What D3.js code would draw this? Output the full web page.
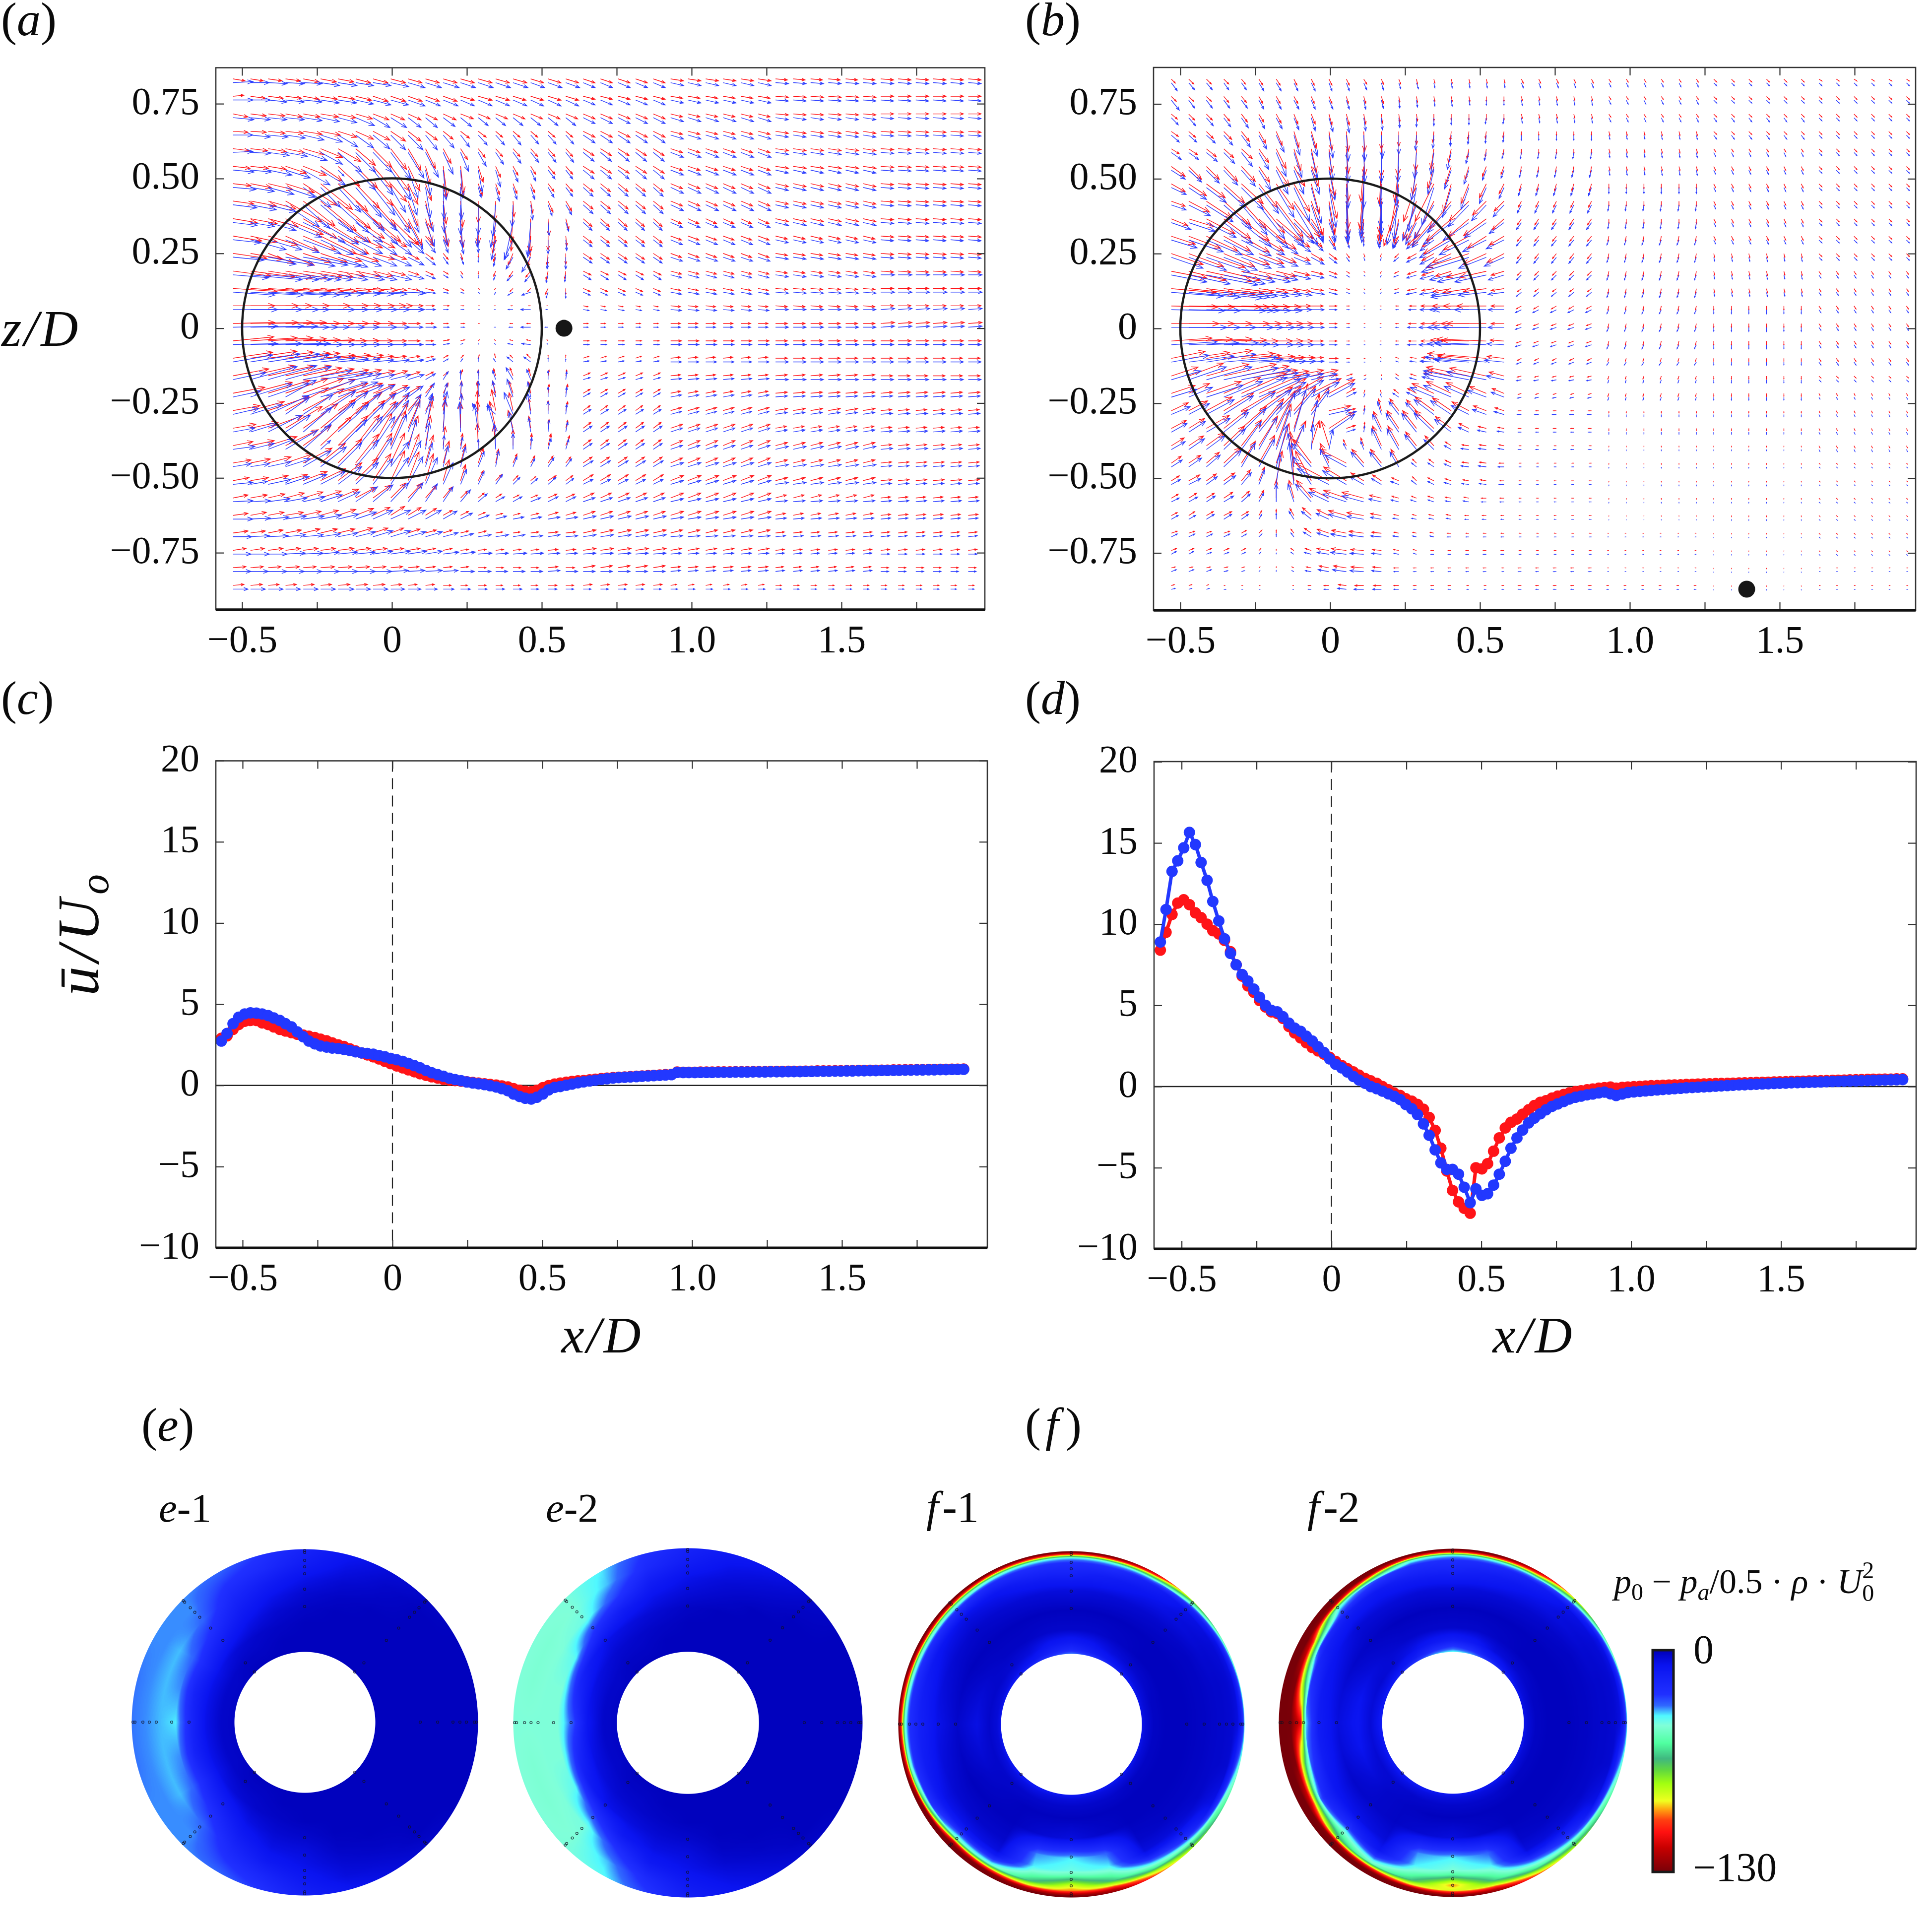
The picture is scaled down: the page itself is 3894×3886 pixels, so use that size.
<!DOCTYPE html>
<html>
<head>
<meta charset="utf-8">
<script src="https://cdn.jsdelivr.net/npm/d3@7"></script>
<style>
  html, body { margin: 0; background: #fff; }
  #stage { position: relative; width: 3894px; height: 3886px; overflow: hidden; }
  #stage canvas, #stage svg { position: absolute; left: 0; top: 0; }
  text { font-family: "Liberation Serif", serif; fill: #0a0a0a; }
</style>
</head>
<body>
<div id="stage"><canvas id="disks" width="3894" height="3886"></canvas><svg id="chart" width="3894" height="3886"></svg></div>
<script>
// Quiver grid, x/D and z/D of the arrow tails
const gridX = [-0.53,-0.472,-0.413,-0.355,-0.296,-0.238,-0.18,-0.121,-0.063,-0.004,0.054,0.112,0.171,0.229,0.288,0.346,0.404,0.463,0.521,0.58,0.638,0.696,0.755,0.813,0.872,0.93,0.988,1.047,1.105,1.164,1.222,1.28,1.339,1.397,1.456,1.514,1.572,1.631,1.689,1.748,1.806,1.864,1.923];
const gridZ = [0.833,0.775,0.716,0.658,0.6,0.541,0.483,0.425,0.366,0.308,0.25,0.191,0.133,0.075,0.016,-0.042,-0.1,-0.159,-0.217,-0.275,-0.334,-0.392,-0.45,-0.509,-0.567,-0.625,-0.684,-0.742,-0.8,-0.859];
// Read column by column up to x/D = 0.58, then in four wider blocks where the field is flat
const columnSpans = [1,1,1,1,1,1,1,1,1,1,1,1,1,1,1,1,1,1,1,1,5,6,6,6];

const aRedU = [
[12,13,14,15,16,16,16,15,15,15,14,14,14,14,14,14,14,13,13,13,12,13,12,13],
[11,15,15,16,16,17,17,16,15,15,14,14,14,14,14,14,13,13,13,13,12,12,13,13],
[15,16,17,17,17,18,18,17,16,14,13,12,13,13,12,12,12,12,12,12,12,12,13,13],
[15,16,17,18,19,20,19,18,17,15,13,12,10,9,8,7,7,7,7,7,12,12,13,13],
[16,17,18,19,21,22,23,20,19,16,13,10,8,7,7,7,7,7,7,7,11,12,13,13],
[17,18,18,21,23,22,22,22,19,19,12,5,4,3,5,5,5,5,7,7,11,12,13,13],
[18,21,25,29,34,32,30,24,20,16,10,6,3,3,4,4,4,4,6,7,10,12,13,13],
[21,26,28,37,32,36,33,27,23,20,10,6,3,2,0,-1,1,2,5,6,10,12,13,13],
[24,27,30,38,34,38,33,29,28,27,14,7,5,2,0,-2,-2,-1,1,3,9,11,13,13],
[29,27,30,33,33,36,31,27,22,16,11,8,5,3,-1,-3,-2,-1,0,1,9,11,12,13],
[34,33,26,29,28,27,24,23,22,16,11,8,5,2,0,-2,-5,-3,-1,0,9,11,12,13],
[38,45,45,42,39,33,27,25,20,15,11,8,5,2,0,-2,-4,-5,-2,-1,8,11,12,13],
[44,47,45,45,40,36,33,28,24,16,11,8,5,3,1,-1,-3,-3,-3,0,7,10,12,13],
[42,48,44,44,47,48,43,39,33,22,15,9,6,3,1,-1,-2,-2,-1,0,5,10,12,13],
[42,48,45,41,37,34,31,25,21,16,12,8,5,4,1,0,-3,-4,0,0,5,10,12,14],
[41,47,45,41,37,34,29,24,20,16,12,8,6,4,1,-1,-3,-4,-1,0,6,11,12,13],
[40,47,46,45,37,35,33,28,21,16,12,8,5,3,1,-1,-3,-4,0,0,6,10,12,12],
[36,45,46,46,39,34,31,26,22,17,12,8,5,2,0,-2,-3,-2,1,1,7,10,12,12],
[32,42,42,43,41,35,30,27,22,17,12,7,5,1,-1,-3,-4,-2,1,2,7,10,12,12],
[27,34,41,43,41,35,30,27,23,18,13,8,2,1,-1,-4,-4,-2,0,2,7,11,12,11],
[23,28,35,37,35,35,31,29,23,17,12,7,2,0,-1,-6,-5,-2,1,2,8,12,11,11],
[20,24,29,33,28,31,30,24,19,15,10,5,2,2,-1,-2,0,1,3,4,8,12,12,11],
[18,20,23,27,29,25,24,23,19,14,11,8,6,5,5,3,4,4,5,5,9,12,12,11],
[16,18,20,22,24,25,24,23,18,14,11,8,6,5,5,6,5,5,8,7,10,13,12,11],
[15,17,17,19,20,21,21,21,18,15,14,11,9,7,6,6,6,7,9,9,11,13,11,10],
[15,16,16,18,18,18,18,18,17,14,13,11,9,8,7,7,7,8,10,10,12,13,10,10],
[15,15,15,16,17,17,17,17,15,13,12,11,9,8,8,7,7,8,10,10,13,12,9,9],
[13,14,15,15,15,15,16,15,14,13,12,10,9,8,8,8,8,8,10,10,13,11,9,9],
[13,13,13,14,13,14,14,14,13,12,11,10,9,8,8,8,8,8,10,9,12,10,8,8],
[11,12,11,11,11,11,12,12,12,11,9,9,8,7,8,7,7,7,9,8,9,6,6,6]];
const aRedW = [
[-2,-2,-2,-2,-3,-3,-3,-4,-4,-4,-4,-4,-4,-4,-4,-4,-4,-4,-4,-4,-4,-2,-1,-1],
[1,-2,-2,-2,-3,-3,-3,-4,-5,-5,-5,-5,-5,-4,-4,-4,-4,-4,-4,-4,-3,-2,-1,0],
[-3,-2,-2,-3,-3,-3,-4,-5,-6,-6,-6,-6,-6,-5,-5,-5,-5,-5,-5,-5,-5,-3,-1,0],
[-1,-1,-2,-2,-3,-4,-6,-8,-9,-10,-10,-9,-8,-7,-6,-6,-6,-6,-6,-6,-6,-3,-2,-1],
[-2,-2,-3,-4,-6,-9,-13,-17,-19,-21,-22,-20,-15,-11,-9,-8,-8,-8,-8,-8,-7,-4,-2,-1],
[-2,-2,-3,-7,-9,-15,-20,-22,-22,-25,-25,-18,-30,-27,-16,-11,-9,-8,-8,-8,-7,-4,-2,-1],
[-2,-4,-6,-9,-22,-26,-28,-25,-22,-18,-21,-17,-14,-14,-12,-11,-10,-9,-8,-8,-8,-5,-3,-1],
[-3,-5,-8,-21,-25,-30,-28,-28,-26,-28,-25,-28,-23,-26,-22,-20,-16,-12,-11,-10,-8,-5,-3,-1],
[-4,-5,-8,-16,-20,-24,-24,-20,-23,-26,-27,-24,-28,-28,-26,-28,-25,-34,-17,-11,-8,-5,-3,-1],
[-5,-6,-9,-15,-14,-18,-18,-12,-12,-11,-9,-10,-10,-11,-9,-17,-15,-18,-14,-10,-7,-4,-3,-1],
[-5,-6,-10,-12,-9,-9,-8,-8,-6,-6,-6,-6,-6,-6,-4,-8,-12,-14,-12,-11,-6,-4,-2,-1],
[-5,-6,-7,-7,-6,-6,-5,-5,-5,-4,-4,-4,-3,-3,-3,-5,-6,-6,-9,-8,-4,-3,-2,-1],
[-3,-3,-3,-3,-3,-3,-3,-2,-2,-2,-2,-2,-2,-2,-1,-1,-3,-3,-6,-6,-3,-2,-1,0],
[0,0,0,0,0,0,0,0,0,0,0,0,0,0,0,0,0,0,0,0,-1,-1,-1,0],
[1,1,1,1,0,0,0,0,0,0,0,0,0,0,0,0,0,0,0,0,0,0,0,1],
[4,3,3,2,1,1,0,0,0,0,0,0,1,1,1,1,1,1,1,0,0,0,0,0],
[6,7,6,5,5,3,3,3,2,2,2,2,3,3,3,4,3,4,3,3,2,1,0,0],
[7,10,10,10,8,7,6,6,5,5,4,4,4,6,6,7,8,7,6,6,3,1,1,0],
[6,11,13,15,15,14,10,10,9,8,7,8,10,12,12,12,12,11,9,9,4,2,1,1],
[5,9,14,23,22,21,20,19,18,16,15,14,14,17,20,21,18,12,10,9,5,3,2,1],
[4,6,13,22,25,29,27,28,27,25,28,27,28,26,28,27,18,12,9,8,6,4,2,1],
[4,5,9,16,20,29,30,31,33,35,30,30,19,12,22,20,16,12,12,10,6,5,3,1],
[3,4,6,9,15,20,24,29,30,30,29,28,22,19,15,14,9,7,7,6,6,5,3,1],
[3,3,5,6,9,12,18,23,27,30,29,27,21,16,10,6,5,4,5,5,6,5,3,1],
[3,3,4,5,6,7,9,11,13,15,15,13,11,7,5,4,3,3,4,4,5,5,3,1],
[2,3,3,3,4,5,6,7,8,9,8,7,5,4,3,2,2,2,3,3,4,4,2,1],
[2,2,3,3,4,4,4,5,5,5,4,3,3,2,2,1,1,1,1,1,3,3,1,1],
[2,2,2,2,2,2,2,2,2,2,2,2,2,1,1,1,1,1,1,1,2,2,1,1],
[1,1,1,1,1,1,1,1,1,1,1,1,1,1,0,0,0,0,1,0,2,1,1,0],
[1,1,1,1,1,1,1,1,1,1,1,1,0,0,0,0,0,0,0,0,1,1,0,0]];
const aBlueU = [
[20,19,19,19,19,19,19,18,18,18,17,16,16,15,15,15,15,14,14,14,12,13,13,13],
[20,20,19,19,19,19,19,18,18,18,17,15,15,14,14,14,14,13,13,13,12,13,13,13],
[21,20,19,19,19,19,19,19,17,16,13,12,12,11,10,10,10,10,10,10,12,13,13,13],
[20,20,20,20,21,22,20,18,17,15,15,12,11,9,9,9,8,8,8,8,12,13,13,13],
[20,20,21,22,24,22,24,20,19,20,16,13,10,8,8,8,8,8,8,8,11,13,13,13],
[21,21,24,25,27,25,6,20,20,20,10,5,3,2,4,5,5,5,7,7,11,13,13,13],
[23,24,26,30,28,20,23,26,22,15,9,5,1,1,3,4,4,4,6,7,10,13,13,13],
[24,26,28,34,27,33,31,29,24,19,11,8,1,0,0,-3,-1,2,4,6,10,13,13,13],
[24,24,28,36,42,38,31,27,25,21,15,9,4,2,-1,-5,-8,-3,1,3,9,12,13,13],
[28,36,34,34,38,33,29,27,24,21,16,10,5,3,0,-4,-9,-3,0,1,9,12,13,13],
[31,46,46,50,45,41,30,26,24,21,16,10,5,3,0,-2,-7,-9,-1,0,9,12,13,13],
[36,52,51,46,38,32,30,29,24,21,16,10,5,2,0,-2,-6,-6,-2,-1,8,11,13,14],
[42,53,58,54,48,43,42,38,34,34,18,10,5,3,1,-1,-5,-9,-2,0,7,11,13,14],
[45,52,51,44,52,48,45,42,37,34,16,10,5,3,1,-1,-5,-10,-2,0,6,11,13,14],
[45,54,50,44,35,29,27,24,24,19,15,11,6,4,0,-1,-4,-10,-3,0,5,10,13,14],
[45,52,55,45,40,35,30,25,21,17,15,10,6,2,0,-1,-5,-9,-1,0,6,11,13,13],
[40,50,52,44,38,35,31,25,21,19,16,10,5,2,0,-2,-6,-7,0,0,6,11,13,13],
[33,47,49,46,49,46,35,26,22,20,16,10,5,0,0,-3,-7,-4,0,1,7,11,13,13],
[28,42,41,31,52,47,40,28,22,19,15,9,4,1,0,-3,-6,-3,0,1,7,11,12,12],
[26,32,41,24,30,35,30,25,23,19,13,7,4,1,-6,-9,-9,-3,0,1,8,11,12,12],
[22,26,34,25,29,35,31,29,25,18,12,7,2,-1,-4,-8,-4,-2,1,2,9,12,12,12],
[22,24,26,32,28,10,29,27,22,16,8,4,1,2,0,-1,0,1,3,3,9,12,13,12],
[18,19,23,25,28,26,24,23,19,18,13,7,5,5,6,3,4,4,6,6,10,13,13,11],
[20,17,23,24,24,25,24,23,20,18,15,12,10,6,6,7,7,7,8,8,10,13,13,11],
[20,20,22,22,22,22,22,22,20,18,15,12,10,10,9,9,9,10,10,10,12,13,12,11],
[20,20,21,21,21,21,21,21,20,20,18,16,14,12,11,11,11,11,12,12,13,13,11,10],
[19,19,20,20,20,20,20,20,20,20,18,17,15,13,13,13,12,12,12,12,13,12,10,9],
[18,19,19,20,20,19,20,20,20,20,19,17,16,15,14,13,14,13,12,12,13,11,9,9],
[18,18,19,19,19,19,20,20,19,18,17,17,15,14,13,12,12,12,12,12,12,10,9,8],
[15,15,15,15,15,15,16,15,15,14,13,12,11,10,9,9,9,8,9,8,8,7,6,6]];
const aBlueW = [
[1,0,-1,-1,-1,-3,-3,-3,-3,-4,-5,-5,-5,-5,-5,-5,-5,-5,-5,-5,-5,-3,-1,-1],
[0,0,-2,-2,-2,-3,-3,-4,-5,-5,-6,-6,-6,-6,-6,-6,-6,-6,-6,-6,-5,-3,-1,-1],
[-2,-2,-2,-2,-3,-4,-5,-8,-10,-10,-10,-10,-9,-9,-8,-8,-8,-8,-8,-8,-6,-4,-2,-1],
[0,-2,-2,-3,-5,-7,-12,-13,-14,-15,-15,-15,-13,-12,-10,-10,-10,-9,-9,-9,-8,-4,-2,-1],
[1,-1,-3,-4,-8,-12,-20,-20,-20,-27,-26,-25,-22,-19,-14,-12,-11,-10,-10,-10,-9,-5,-2,-1],
[-2,-2,-5,-8,-15,-15,-6,-20,-25,-30,-28,-25,-30,-28,-22,-17,-12,-11,-9,-9,-9,-5,-3,-1],
[-2,-4,-7,-10,-20,-20,-25,-30,-28,-25,-28,-30,-32,-32,-10,-14,-12,-12,-10,-9,-9,-6,-3,-1],
[-3,-5,-7,-22,-24,-28,-28,-26,-26,-28,-28,-27,-28,-30,-30,-32,-22,-15,-11,-10,-9,-6,-3,-1],
[-3,-4,-8,-15,-20,-22,-20,-20,-22,-25,-27,-24,-23,-25,-25,-25,-37,-35,-13,-9,-8,-5,-3,-1],
[-3,-10,-10,-13,-14,-15,-15,-14,-15,-15,-14,-13,-13,-14,-13,-20,-20,-15,-14,-11,-7,-5,-3,-1],
[-3,-7,-8,-9,-8,-9,-10,-9,-9,-9,-8,-8,-7,-7,-5,-9,-12,-15,-12,-12,-6,-4,-2,-1],
[-3,-5,-5,-5,-5,-5,-5,-5,-5,-5,-4,-4,-3,-3,-3,-5,-6,-7,-8,-7,-5,-3,-2,0],
[-3,-3,-3,-3,-3,-2,-2,-2,-2,-1,-1,-1,-1,-1,-1,-2,-3,-3,-6,-6,-3,-2,-1,0],
[0,0,0,0,0,0,0,0,0,0,0,0,0,0,0,0,0,0,0,0,-1,-1,0,1],
[1,1,1,0,0,0,0,0,0,0,0,0,0,0,0,0,0,0,0,0,0,0,0,1],
[1,1,1,1,0,0,0,0,0,0,0,0,1,1,1,1,1,1,1,0,0,0,0,0],
[7,8,8,7,5,4,3,3,2,2,2,3,3,3,4,3,5,5,4,3,1,0,0,0],
[7,13,14,13,9,7,6,6,5,5,5,6,8,9,9,9,12,10,9,8,2,1,0,0],
[6,13,14,17,17,15,15,12,12,10,11,14,14,15,16,16,18,15,10,10,4,2,1,1],
[6,10,19,17,20,23,22,21,21,22,20,21,23,20,11,8,22,21,13,10,5,3,2,1],
[4,8,17,17,25,30,28,29,30,32,31,38,33,30,28,28,20,14,12,10,6,4,2,1],
[3,6,10,19,25,9,30,33,33,35,30,27,14,12,10,25,16,12,11,10,6,4,3,1],
[3,3,5,8,16,20,24,27,29,25,26,24,21,20,15,16,10,8,9,8,6,4,2,1],
[2,3,5,8,10,13,18,22,26,27,28,27,22,15,13,10,7,6,7,6,5,4,2,1],
[1,1,3,4,5,7,10,15,17,19,19,18,15,12,8,5,5,4,5,5,4,3,1,1],
[0,1,2,3,3,4,5,7,9,9,9,9,8,6,4,3,2,2,2,2,3,2,1,1],
[0,1,1,2,2,3,4,5,6,6,5,5,4,3,2,2,2,1,2,1,2,1,1,1],
[0,0,0,1,1,2,2,2,3,3,3,3,2,2,1,1,1,1,1,1,1,1,1,0],
[0,0,0,0,0,0,0,0,0,1,1,1,1,0,0,0,0,0,1,0,0,1,1,0],
[0,0,0,0,0,0,0,0,0,0,0,0,0,0,0,0,0,0,0,0,0,0,0,0]];

const bRedU = [
[4,5,5,5,4,4,4,3,3,3,3,3,2,2,1,1,1,1,1,1,2,2,3,3],
[5,5,5,5,5,4,4,4,3,3,2,2,2,1,1,1,1,1,0,0,1,2,3,3],
[6,6,6,6,6,5,5,4,4,3,3,2,1,1,1,0,0,0,0,0,1,2,3,3],
[7,7,7,8,8,7,6,5,5,3,2,1,0,0,0,-1,-1,-1,-1,-1,0,1,3,3],
[8,9,10,10,11,10,10,7,5,3,2,1,0,-1,-1,-3,-3,-2,-1,-1,0,1,2,3],
[14,13,13,14,14,11,13,11,7,6,2,-3,-2,-4,-4,-6,-6,-4,-4,-3,-1,1,2,3],
[14,18,19,21,22,19,18,16,8,8,2,-4,-2,-9,-13,-19,-8,-8,-7,-5,-2,0,2,3],
[14,21,26,27,25,26,27,26,12,6,2,-3,-1,-15,-13,-19,-22,-20,-14,-10,-3,0,2,3],
[17,26,29,27,28,28,27,19,11,6,2,-2,-3,-5,-10,-22,-25,-21,-23,-12,-4,0,2,3],
[24,32,32,27,28,25,20,16,11,6,2,0,-2,-4,-9,-12,-28,-26,-19,-15,-4,-1,2,3],
[32,35,39,31,28,25,20,16,12,8,3,1,-1,-4,-9,-12,-19,-43,-24,-17,-4,-1,1,3],
[36,38,46,37,31,31,20,16,12,8,3,1,-1,-4,-9,-12,-16,-23,-27,-13,-4,-1,1,2],
[45,46,49,40,32,29,23,17,12,8,3,1,-1,-4,-9,-12,-18,-26,-23,-13,-4,-1,1,2],
[47,46,55,46,37,31,25,17,12,8,3,1,-1,-3,-7,-13,-19,-26,-30,-13,-5,-1,0,2],
[48,46,46,46,40,34,27,19,12,8,3,1,-1,-3,-8,-13,-20,-28,-40,-13,-5,-1,0,2],
[41,44,46,43,37,34,27,19,12,8,3,1,-1,-3,-8,-13,-21,-28,-50,-14,-5,-1,0,2],
[34,41,46,51,40,36,29,21,12,9,3,1,-1,-3,-6,-12,-13,-31,-59,-17,-4,-1,0,2],
[27,35,43,53,48,39,33,30,27,9,6,2,0,-3,-6,-10,-25,-43,-37,-15,-4,-1,0,2],
[24,21,35,37,45,42,30,30,30,26,9,1,-1,-5,-9,-22,-25,-23,-17,-12,-3,-1,0,1],
[17,19,26,30,34,34,25,22,18,22,9,1,-3,-9,-10,-19,-19,-17,-13,-9,-3,0,0,1],
[15,16,23,24,25,25,19,14,8,26,9,1,-8,-12,-14,-19,-16,-10,-8,-6,-3,0,0,1],
[13,15,18,21,20,19,15,12,8,-8,-3,-3,-9,-11,-11,-9,-6,-7,-7,-5,-2,0,0,1],
[10,12,13,17,14,16,13,-4,-18,-9,-27,-12,-11,-8,-4,-5,-6,-7,-7,-5,-2,0,0,1],
[8,11,10,11,9,6,6,-3,-16,-34,-23,-13,-9,-7,-4,-6,-6,-6,-6,-4,-2,0,0,1],
[7,8,8,9,8,5,0,-5,-15,-20,-23,-22,-12,-7,-5,-6,-6,-5,-5,-4,-2,0,0,1],
[6,6,7,8,7,3,0,-4,-9,-12,-18,-17,-11,-5,-4,-5,-5,-4,-4,-3,-2,0,0,1],
[6,6,5,6,5,3,0,-3,-7,-12,-15,-15,-10,-5,-4,-4,-4,-3,-3,-3,-2,-1,0,1],
[5,5,5,5,4,2,0,-3,-6,-12,-15,-13,-9,-5,-3,-3,-3,-3,-3,-3,-2,-1,0,1],
[4,4,4,4,3,1,0,-2,-5,-10,-13,-13,-9,-5,-3,-3,-3,-3,-3,-2,-3,-1,0,1],
[3,3,2,1,1,1,0,-1,-3,-5,-8,-9,-8,-5,-3,-3,-3,-2,-2,-2,-3,-2,0,1]];
const bRedW = [
[-4,-5,-5,-5,-5,-6,-6,-6,-6,-6,-6,-5,-5,-5,-5,-4,-4,-4,-4,-4,-4,-3,-3,-2],
[-5,-5,-5,-6,-6,-7,-7,-7,-7,-7,-7,-7,-7,-6,-6,-5,-5,-5,-5,-5,-4,-3,-3,-3],
[-5,-6,-6,-7,-8,-8,-9,-10,-10,-11,-11,-10,-9,-8,-7,-7,-6,-6,-6,-6,-4,-3,-3,-3],
[-5,-6,-7,-8,-10,-12,-14,-16,-17,-19,-20,-20,-18,-15,-13,-11,-9,-8,-7,-6,-4,-4,-3,-3],
[-5,-6,-8,-9,-10,-14,-20,-22,-24,-24,-25,-27,-28,-27,-22,-20,-14,-10,-8,-6,-5,-4,-3,-3],
[-10,-13,-13,-15,-15,-16,-20,-20,-20,-30,-35,-35,-38,-35,-28,-22,-18,-13,-10,-8,-6,-4,-4,-3],
[-8,-12,-14,-19,-20,-24,-26,-28,-30,-35,-45,-45,-50,-48,-38,-38,-28,-20,-14,-10,-7,-5,-4,-3],
[-5,-11,-17,-24,-28,-32,-36,-36,-34,-32,-35,-30,-40,-45,-38,-38,-28,-20,-14,-10,-6,-5,-4,-3],
[-7,-8,-15,-20,-22,-25,-23,-20,-16,-16,-18,-18,-22,-24,-22,-27,-22,-18,-17,-11,-6,-5,-4,-3],
[-8,-12,-15,-15,-16,-15,-13,-11,-11,-10,-8,-6,-8,-8,-9,-11,-18,-14,-12,-9,-5,-5,-4,-3],
[-11,-13,-14,-13,-11,-10,-9,-7,-7,-6,-4,-3,-3,-4,-5,-7,-9,-14,-11,-9,-5,-5,-4,-3],
[-7,-9,-10,-9,-7,-7,-5,-4,-3,-3,-2,-1,-2,-2,-3,-4,-5,-6,-6,-4,-4,-5,-4,-3],
[-4,-5,-6,-5,-4,-4,-3,-3,-2,-2,-1,-1,-1,-1,-2,-2,-3,-4,-3,-2,-3,-5,-4,-3],
[-1,-1,-1,-1,-1,-1,-1,0,0,0,0,0,0,0,0,0,0,0,0,0,-3,-4,-4,-3],
[0,0,0,0,0,0,0,0,0,0,0,0,0,0,0,0,0,0,0,0,-2,-4,-4,-3],
[3,2,2,1,0,0,0,0,0,0,0,0,0,0,0,0,1,1,2,1,-2,-4,-4,-3],
[7,6,8,5,3,2,1,1,1,0,0,0,1,1,1,1,2,3,5,2,-2,-3,-3,-3],
[9,13,12,12,10,6,5,6,6,1,2,1,1,2,2,3,6,9,8,4,-1,-3,-3,-2],
[8,10,12,16,20,18,15,17,15,14,5,3,3,4,5,10,12,11,7,5,-1,-3,-3,-2],
[8,10,14,18,20,24,25,25,24,5,2,5,12,12,11,14,13,9,5,3,0,-2,-2,-2],
[8,10,13,19,22,30,38,45,35,17,3,6,17,18,18,18,12,5,2,1,0,-2,-2,-2],
[8,10,13,20,26,30,42,25,25,25,6,8,20,20,14,10,4,1,1,1,0,-1,-1,-2],
[7,8,11,16,22,28,40,32,24,20,14,14,14,14,4,4,3,1,1,0,0,-1,-1,-1],
[5,6,7,8,11,14,30,45,30,18,14,8,6,3,4,3,2,1,1,0,0,-1,-1,-1],
[4,5,5,6,7,8,18,18,18,10,8,6,3,2,2,2,1,1,0,0,0,-1,-1,-1],
[3,4,4,4,4,5,6,7,8,6,5,3,2,1,1,1,1,0,0,0,0,-0.5,-1,-1],
[2,2,2,2,3,3,3,4,5,4,3,2,1,1,1,1,0,0,0,0,0,0,-0.5,-1],
[2,2,2,2,2,2,1,2,2,2,2,1,1,1,1,0,0,0,0,0,0,0,-0.5,-1],
[1,1,1,1,1,1,1,1,1,2,2,1,1,0,0,0,0,0,0,0,0,0,-0.5,0],
[1,1,1,0,0,0,0,0,0,0,1,0,0,0,0,0,0,0,0,0,0,0,-0.5,0]];
const bBlueU = [
[6,6,6,5,5,5,5,4,4,3,3,3,2,2,2,1,1,1,1,1,2,2,3,3],
[8,6,6,6,6,5,5,5,4,4,3,2,2,1,1,1,1,1,0,0,1,2,3,3],
[7,7,7,7,7,6,6,5,4,4,3,2,1,1,0,0,0,0,-1,-1,1,2,3,3],
[8,8,9,9,9,8,8,6,6,4,2,1,1,0,-1,-1,-1,-1,-1,-1,0,1,3,3],
[10,10,11,11,11,10,10,8,6,4,2,1,0,-1,-2,-3,-4,-3,-2,-2,-1,1,2,3],
[14,13,13,14,14,12,12,10,8,6,2,0,-1,-3,-5,-6,-7,-5,-4,-3,-2,1,2,3],
[15,18,20,22,22,20,18,16,10,7,2,-3,-1,-5,-8,-12,-9,-8,-7,-5,-3,0,2,3],
[15,22,27,28,26,26,28,24,12,6,1,-3,0,-12,-14,-20,-24,-21,-15,-11,-4,-1,2,3],
[20,27,30,29,30,30,28,20,12,7,2,-2,-3,-6,-11,-22,-28,-26,-22,-15,-5,-1,2,3],
[26,35,36,30,30,26,22,17,12,7,3,0,-2,-5,-10,-14,-32,-30,-24,-18,-5,-2,2,3],
[32,38,44,34,30,26,22,17,13,8,3,1,-1,-5,-10,-14,-25,-48,-28,-20,-5,-2,1,3],
[36,42,52,42,34,32,22,17,13,8,3,1,-1,-5,-10,-14,-22,-32,-32,-16,-5,-2,1,2],
[52,52,56,46,36,30,25,18,13,8,3,1,-1,-4,-10,-14,-20,-38,-28,-16,-5,-2,1,2],
[54,52,60,50,38,32,26,18,13,8,3,1,-1,-3,-8,-14,-22,-36,-32,-16,-6,-2,0,2],
[56,52,50,50,42,36,28,20,13,8,3,1,-1,-3,-9,-15,-24,-36,-44,-16,-6,-2,0,2],
[46,50,52,46,38,35,28,20,13,8,3,1,-1,-3,-9,-15,-24,-34,-52,-17,-6,-2,0,2],
[38,46,50,54,42,37,30,22,13,9,3,1,-1,-3,-7,-14,-16,-36,-62,-20,-5,-2,0,2],
[30,38,46,55,50,40,34,30,26,10,6,2,0,-3,-7,-12,-28,-46,-40,-18,-5,-1,0,2],
[26,24,37,39,46,42,30,30,28,26,10,1,-1,-6,-10,-24,-28,-25,-19,-13,-4,-1,0,1],
[19,21,28,30,34,33,25,22,18,22,10,1,-4,-10,-11,-20,-21,-18,-14,-10,-4,0,0,1],
[16,17,24,25,25,24,19,12,6,26,9,1,-9,-13,-15,-20,-17,-11,-9,-7,-3,0,0,1],
[14,16,19,22,20,18,14,10,2,4,-3,-3,-10,-12,-12,-10,-7,-8,-8,-6,-3,0,0,1],
[11,13,14,18,14,16,11,-6,-20,-9,-22,-13,-12,-9,-5,-6,-7,-8,-8,-6,-2,0,0,1],
[9,12,11,12,10,6,4,-5,-18,-32,-24,-14,-10,-8,-5,-6,-7,-7,-7,-5,-2,0,0,1],
[8,9,9,10,9,5,0,-6,-16,-21,-24,-22,-13,-8,-6,-6,-6,-6,-5,-4,-2,0,0,1],
[7,7,8,8,7,3,0,-5,-10,-13,-18,-17,-11,-6,-5,-5,-5,-4,-4,-3,-2,0,0,1],
[6,6,6,6,5,3,0,-3,-8,-12,-16,-15,-11,-6,-4,-4,-4,-3,-3,-3,-2,-1,0,1],
[5,5,5,5,4,2,0,-3,-7,-12,-16,-14,-10,-5,-3,-3,-3,-3,-3,-3,-2,-1,0,1],
[5,5,5,4,3,1,0,-2,-6,-11,-14,-14,-10,-5,-3,-3,-3,-3,-3,-2,-3,-1,0,1],
[4,3,3,2,1,1,0,-1,-3,-5,-9,-10,-9,-5,-3,-3,-3,-2,-2,-2,-3,-2,0,1]];
const bBlueW = [
[-8,-7,-7,-7,-7,-8,-8,-8,-8,-8,-8,-7,-7,-6,-6,-5,-5,-5,-5,-5,-5,-4,-3,-3],
[-10,-8,-8,-8,-8,-9,-9,-9,-9,-9,-9,-9,-8,-8,-7,-6,-6,-5,-5,-5,-5,-4,-3,-3],
[-7,-8,-8,-9,-10,-11,-11,-12,-13,-14,-15,-13,-12,-10,-9,-8,-7,-7,-6,-6,-5,-4,-4,-3],
[-7,-7,-8,-10,-12,-14,-17,-20,-21,-23,-26,-26,-23,-19,-15,-13,-11,-9,-8,-7,-5,-4,-4,-3],
[-7,-7,-9,-11,-14,-17,-24,-25,-26,-28,-30,-30,-30,-30,-26,-22,-17,-11,-8,-6,-6,-5,-4,-3],
[-9,-12,-13,-15,-16,-20,-24,-24,-24,-30,-38,-38,-38,-36,-30,-24,-19,-14,-10,-8,-7,-5,-4,-3],
[-7,-12,-15,-20,-22,-26,-30,-34,-36,-40,-50,-48,-40,-52,-44,-38,-30,-22,-16,-11,-8,-6,-4,-3],
[-5,-11,-17,-24,-30,-34,-38,-40,-38,-38,-38,-34,-30,-40,-36,-34,-28,-22,-16,-12,-8,-6,-4,-3],
[-7,-9,-15,-21,-24,-26,-24,-21,-18,-18,-20,-20,-24,-26,-22,-25,-22,-18,-15,-11,-7,-6,-4,-3],
[-8,-12,-15,-15,-16,-15,-14,-12,-11,-10,-8,-6,-8,-8,-9,-11,-18,-15,-12,-9,-6,-5,-4,-3],
[-11,-13,-15,-13,-11,-10,-9,-7,-7,-6,-4,-3,-3,-4,-5,-7,-10,-15,-11,-9,-6,-5,-4,-3],
[-7,-9,-10,-9,-7,-7,-5,-4,-3,-3,-2,-1,-2,-2,-3,-4,-5,-7,-7,-5,-5,-5,-4,-3],
[-4,-5,-6,-5,-4,-4,-3,-3,-2,-2,-1,-1,-1,-1,-2,-2,-3,-5,-3,-2,-4,-5,-4,-3],
[-1,-1,-1,-1,-1,-1,-1,0,0,0,0,0,0,0,0,0,0,0,0,0,-3,-4,-4,-3],
[0,0,0,0,0,0,0,0,0,0,0,0,0,0,0,0,0,0,0,0,-2,-4,-4,-3],
[3,2,2,1,0,0,0,0,0,0,0,0,0,0,0,0,1,1,2,1,-2,-4,-4,-3],
[7,6,8,5,3,2,1,1,1,0,0,0,1,1,1,1,2,3,5,2,-2,-3,-3,-3],
[9,13,13,12,10,7,5,6,6,1,2,1,1,2,2,3,6,9,8,4,-1,-3,-3,-2],
[8,10,12,16,20,18,15,17,15,14,5,3,3,4,5,10,12,11,7,5,-1,-3,-3,-2],
[8,11,15,19,22,25,26,26,24,5,3,6,13,13,12,15,14,9,5,3,0,-2,-2,-2],
[9,11,14,20,24,30,40,42,32,18,3,6,18,19,19,19,13,5,2,1,0,-2,-2,-2],
[8,11,14,21,28,32,40,25,25,20,6,8,21,21,15,10,4,1,1,1,0,-1,-1,-2],
[7,9,12,17,24,28,42,34,24,18,12,15,15,15,4,4,3,1,1,0,0,-1,-1,-1],
[5,6,8,9,12,15,30,42,28,16,14,8,6,3,4,3,2,1,1,0,0,-1,-1,-1],
[4,5,6,6,8,9,18,18,18,10,8,6,3,2,2,2,1,1,0,0,0,-1,-1,-1],
[4,4,5,5,5,5,6,8,8,6,5,3,2,1,1,1,1,0,0,0,0,-0.5,-1,-1],
[3,3,3,3,3,3,3,4,5,4,3,2,1,1,1,1,0,0,0,0,0,0,-0.5,-1],
[3,3,2,2,2,2,1,2,2,2,2,1,1,1,1,0,0,0,0,0,0,0,-0.5,-1],
[2,2,2,1,1,1,1,1,1,2,2,1,1,0,0,0,0,0,0,0,0,0,-0.5,0],
[1,1,1,0,0,0,0,0,0,0,1,0,0,0,0,0,0,0,0,0,0,0,-0.5,0]];

// Centreline profiles
const profileX = [-0.571,-0.552,-0.532,-0.513,-0.493,-0.474,-0.454,-0.435,-0.415,-0.396,-0.376,-0.357,-0.337,-0.318,-0.298,-0.279,-0.259,-0.24,-0.22,-0.201,-0.181,-0.162,-0.142,-0.123,-0.103,-0.084,-0.064,-0.045,-0.025,-0.006,0.014,0.034,0.053,0.073,0.092,0.112,0.131,0.151,0.17,0.19,0.209,0.229,0.248,0.268,0.287,0.307,0.326,0.346,0.365,0.385,0.404,0.424,0.443,0.463,0.482,0.502,0.521,0.541,0.56,0.58,0.599,0.619,0.638,0.658,0.677,0.697,0.716,0.736,0.755,0.775,0.794,0.814,0.833,0.853,0.872,0.892,0.911,0.931,0.95,0.97,0.989,1.009,1.028,1.048,1.067,1.087,1.106,1.126,1.145,1.165,1.184,1.204,1.223,1.243,1.262,1.282,1.301,1.321,1.34,1.36,1.379,1.399,1.418,1.438,1.457,1.477,1.496,1.516,1.535,1.555,1.574,1.594,1.613,1.633,1.652,1.672,1.691,1.711,1.73,1.75,1.769,1.789,1.808,1.828,1.847,1.867,1.886,1.906];
const cRed = [2.9,3.05,3.45,3.75,3.95,4.0,4.0,3.85,3.75,3.6,3.45,3.35,3.25,3.15,3.1,3.03,2.95,2.85,2.75,2.62,2.5,2.4,2.25,2.12,2.0,1.88,1.76,1.63,1.48,1.34,1.2,1.08,0.96,0.84,0.72,0.62,0.53,0.45,0.38,0.33,0.3,0.26,0.22,0.18,0.14,0.1,0.06,0.02,-0.03,-0.09,-0.2,-0.3,-0.36,-0.38,-0.3,-0.14,-0.02,0.08,0.14,0.2,0.24,0.28,0.3,0.34,0.38,0.42,0.45,0.48,0.5,0.52,0.54,0.56,0.58,0.6,0.62,0.64,0.66,0.68,0.82,0.81,0.81,0.81,0.82,0.82,0.82,0.83,0.83,0.83,0.84,0.84,0.84,0.85,0.85,0.85,0.86,0.86,0.86,0.87,0.87,0.87,0.88,0.88,0.89,0.89,0.89,0.9,0.9,0.91,0.91,0.92,0.92,0.93,0.93,0.94,0.94,0.95,0.95,0.96,0.96,0.97,0.97,0.98,0.98,0.99,0.99,1.0,1.0,1.01];
const cBlue = [2.73,3.2,3.8,4.2,4.4,4.47,4.45,4.4,4.3,4.15,4.0,3.8,3.6,3.3,3.0,2.73,2.56,2.43,2.36,2.3,2.27,2.22,2.15,2.07,2.0,1.97,1.92,1.84,1.76,1.66,1.58,1.48,1.36,1.22,1.08,0.92,0.78,0.66,0.56,0.44,0.36,0.29,0.21,0.15,0.1,0.05,-0.02,-0.1,-0.2,-0.33,-0.53,-0.68,-0.79,-0.84,-0.73,-0.53,-0.28,-0.12,-0.07,0.01,0.08,0.16,0.22,0.27,0.32,0.37,0.41,0.45,0.48,0.5,0.52,0.54,0.56,0.58,0.6,0.62,0.64,0.66,0.8,0.79,0.79,0.79,0.8,0.8,0.8,0.81,0.81,0.81,0.82,0.82,0.82,0.83,0.83,0.83,0.84,0.84,0.84,0.85,0.85,0.85,0.86,0.86,0.87,0.87,0.87,0.88,0.88,0.89,0.89,0.9,0.9,0.91,0.91,0.92,0.92,0.93,0.93,0.94,0.94,0.95,0.95,0.96,0.96,0.97,0.97,0.98,0.98,0.99];
const dRed = [8.4,9.5,10.6,11.3,11.5,11.2,10.7,10.4,10.0,9.6,9.4,9.0,8.3,7.5,6.8,6.2,5.8,5.3,4.9,4.6,4.5,4.2,3.7,3.3,3.0,2.7,2.4,2.2,2.0,1.8,1.55,1.3,1.1,0.9,0.7,0.5,0.35,0.2,0,-0.2,-0.4,-0.55,-0.75,-0.9,-1.1,-1.4,-1.9,-2.7,-3.8,-5.2,-6.4,-7.1,-7.5,-7.8,-5.0,-5.07,-4.75,-3.98,-3.16,-2.55,-2.2,-2.0,-1.7,-1.43,-1.17,-0.97,-0.87,-0.71,-0.59,-0.49,-0.39,-0.31,-0.26,-0.2,-0.15,-0.1,-0.07,-0.03,-0.1,-0.05,-0.03,-0.01,0.01,0.03,0.05,0.06,0.08,0.09,0.1,0.11,0.13,0.14,0.15,0.16,0.17,0.18,0.19,0.2,0.21,0.22,0.23,0.24,0.25,0.26,0.27,0.28,0.29,0.3,0.31,0.32,0.33,0.34,0.35,0.36,0.37,0.38,0.39,0.4,0.41,0.42,0.43,0.44,0.45,0.45,0.46,0.46,0.47,0.47];
const dBlue = [8.9,10.9,13.25,13.9,14.7,15.65,14.9,13.8,12.7,11.4,10.2,9.1,8.2,7.5,6.9,6.5,6.0,5.5,5.0,4.7,4.6,4.3,3.9,3.6,3.4,3.1,2.8,2.45,2.1,1.7,1.37,1.15,0.9,0.62,0.4,0.2,0,-0.13,-0.28,-0.45,-0.6,-0.8,-1.1,-1.37,-1.73,-2.3,-3.0,-3.9,-4.7,-5.1,-5.1,-5.4,-6.2,-7.15,-6.3,-6.7,-6.6,-6.07,-5.4,-4.6,-3.8,-3.16,-2.68,-2.24,-1.94,-1.68,-1.43,-1.22,-1.07,-0.92,-0.77,-0.66,-0.59,-0.51,-0.46,-0.39,-0.34,-0.45,-0.55,-0.46,-0.37,-0.33,-0.3,-0.27,-0.24,-0.21,-0.18,-0.16,-0.13,-0.11,-0.08,-0.06,-0.04,-0.02,0,0.02,0.04,0.06,0.08,0.1,0.11,0.13,0.14,0.16,0.17,0.19,0.2,0.21,0.23,0.24,0.25,0.26,0.27,0.28,0.3,0.31,0.32,0.33,0.34,0.35,0.36,0.37,0.38,0.39,0.4,0.41,0.42,0.43];

// Disk pressure tables, one row per angle (deg, counter-clockwise from the right)
const diskAngles = [0,15,30,45,60,75,90,105,120,135,150,165,180,195,210,225,240,255,270,285,300,315,330,345];
const eRadii = [142,170,200,230,260,290,320,349];
const fRadii = [142,150,165,190,230,270,295,305,325,335,341,346,349];
const spokeAngles = [0,45,90,135,180,225,270,315];
const spokeRadii = [143,169,233,268,299,313,326,342,346];
const e1Pressure = [
[-1,-1,-1,-1,-1,-1,-1,-1],[-1,-1,-1,-1,-1,-1,-1,-1],[-1,-1,-1,-1,-1,-1,-1,-1],[-1,-1,-1,-1,-1,-1,-1,-2],
[-1,-1,-1,-1,-1,-2,-3,-5],[-1,-1,-1,-1,-2,-4,-7,-10],[-1,-1,-1,-2,-4,-8,-14,-18],[-1,-1,-2,-4,-8,-14,-22,-26],
[-1,-2,-3,-8,-14,-20,-26,-32],[-1,-2,-5,-14,-24,-32,-34,-34],[-2,-3,-8,-20,-32,-36,-34,-34],[-2,-3,-8,-18,-34,-36,-34,-33],
[-2,-3,-8,-20,-38,-36,-34,-33],[-2,-3,-8,-18,-34,-36,-34,-33],[-2,-3,-8,-20,-32,-36,-34,-34],[-1,-2,-5,-14,-24,-32,-34,-34],
[-1,-2,-3,-7,-13,-20,-26,-32],[-1,-1,-2,-4,-7,-12,-20,-26],[-1,-1,-1,-3,-6,-8,-12,-16],[-1,-1,-1,-1,-2,-4,-6,-10],
[-1,-1,-1,-1,-1,-2,-4,-6],[-1,-1,-1,-1,-1,-1,-1,-3],[-1,-1,-1,-1,-1,-1,-1,-1],[-1,-1,-1,-1,-1,-1,-1,-1]];
const e2Pressure = [
[-1,-1,-1,-1,-1,-1,-1,-1],[-1,-1,-1,-1,-1,-1,-1,-1],[-1,-1,-1,-1,-1,-1,-1,-1],[-1,-1,-1,-1,-1,-1,-2,-3],
[-1,-1,-1,-1,-1,-3,-5,-8],[-1,-1,-1,-1,-3,-5,-8,-12],[-1,-1,-1,-2,-5,-8,-14,-18],[-1,-1,-2,-4,-8,-14,-22,-26],
[-1,-2,-3,-6,-14,-28,-36,-38],[-1,-2,-4,-8,-24,-42,-44,-44],[-2,-3,-6,-14,-40,-44,-45,-44],[-2,-3,-8,-22,-44,-44,-45,-44],
[-2,-3,-10,-30,-44,-44,-44,-44],[-2,-3,-8,-22,-44,-44,-45,-44],[-2,-3,-6,-14,-40,-44,-45,-44],[-1,-2,-4,-8,-26,-43,-44,-44],
[-1,-2,-3,-6,-12,-26,-36,-40],[-1,-1,-2,-4,-7,-12,-22,-28],[-1,-1,-1,-3,-6,-8,-12,-16],[-1,-1,-1,-1,-2,-4,-7,-10],
[-1,-1,-1,-1,-1,-2,-4,-6],[-1,-1,-1,-1,-1,-1,-1,-3],[-1,-1,-1,-1,-1,-1,-1,-1],[-1,-1,-1,-1,-1,-1,-1,-1]];
const f1Pressure = [
[-8,-5,-2,-1,-1,-2,-3,-3,-4,-6,-12,-25,-38],[-8,-5,-2,-1,-1,-2,-3,-3,-4,-6,-14,-28,-42],[-10,-6,-3,-1,-1,-2,-4,-4,-5,-8,-20,-38,-55],
[-14,-8,-4,-1,-1,-3,-6,-6,-8,-20,-38,-60,-80],[-20,-11,-6,-2,-1,-4,-8,-10,-16,-38,-75,-105,-115],[-28,-16,-10,-3,-1,-5,-12,-14,-24,-40,-90,-125,-128],
[-34,-22,-13,-3,-1,-6,-14,-18,-24,-38,-90,-125,-130],[-28,-18,-11,-3,-1,-5,-12,-16,-24,-40,-92,-126,-130],[-20,-11,-6,-2,-1,-4,-8,-10,-22,-44,-95,-128,-130],
[-14,-8,-4,-2,-1,-3,-6,-8,-24,-50,-105,-130,-130],[-10,-6,-3,-3,-1,-4,-8,-10,-24,-50,-108,-130,-130],[-9,-5,-3,-5,-2,-6,-12,-14,-24,-46,-100,-126,-130],
[-8,-5,-3,-7,-3,-8,-14,-16,-24,-42,-90,-122,-130],[-9,-5,-3,-5,-2,-6,-12,-14,-24,-46,-105,-128,-130],[-10,-6,-3,-3,-1,-4,-8,-12,-26,-72,-128,-130,-130],
[-12,-7,-3,-2,-1,-3,-8,-14,-45,-115,-130,-130,-130],[-12,-7,-3,-1,-1,-3,-6,-12,-42,-100,-128,-130,-130],[-10,-6,-3,-1,-4,-34,-38,-44,-62,-90,-118,-130,-130],
[-10,-6,-3,-1,-6,-38,-42,-52,-85,-95,-115,-130,-130],[-10,-6,-3,-1,-3,-32,-38,-44,-62,-88,-110,-122,-126],[-10,-6,-3,-1,-1,-3,-6,-12,-40,-58,-80,-92,-100],
[-10,-6,-2,-1,-1,-2,-5,-8,-24,-42,-60,-70,-80],[-9,-5,-2,-1,-1,-2,-3,-5,-8,-28,-50,-55,-60],[-8,-5,-2,-1,-1,-2,-3,-3,-4,-14,-30,-40,-45]];
const f2Pressure = [
[-8,-5,-2,-1,-1,-2,-3,-3,-4,-6,-12,-25,-38],[-8,-5,-2,-1,-1,-2,-3,-3,-4,-6,-14,-28,-42],[-10,-6,-3,-1,-1,-2,-4,-4,-5,-8,-22,-42,-58],
[-16,-9,-4,-1,-1,-3,-6,-6,-8,-22,-42,-70,-90],[-26,-14,-6,-2,-1,-4,-8,-10,-16,-38,-85,-110,-118],[-36,-24,-12,-3,-1,-5,-12,-14,-22,-40,-95,-128,-130],
[-40,-30,-15,-3,-1,-6,-14,-18,-24,-38,-95,-128,-130],[-36,-24,-12,-3,-1,-5,-12,-16,-24,-42,-100,-130,-130],[-28,-15,-8,-3,-1,-5,-10,-12,-30,-90,-128,-130,-130],
[-18,-10,-5,-4,-2,-5,-12,-16,-42,-120,-130,-130,-130],[-12,-8,-4,-6,-3,-9,-16,-24,-110,-130,-130,-130,-130],[-12,-8,-5,-9,-5,-12,-26,-60,-128,-130,-130,-130,-130],
[-14,-9,-5,-10,-6,-14,-38,-112,-130,-130,-130,-130,-130],[-12,-8,-5,-9,-5,-14,-30,-60,-128,-130,-130,-130,-130],[-12,-8,-4,-6,-3,-10,-20,-30,-110,-130,-130,-130,-130],
[-12,-8,-4,-3,-3,-8,-24,-40,-65,-125,-130,-130,-130],[-12,-7,-3,-2,-2,-5,-10,-20,-48,-110,-130,-130,-130],[-10,-6,-3,-1,-4,-34,-38,-44,-62,-92,-125,-130,-130],
[-10,-6,-3,-1,-6,-38,-44,-56,-95,-85,-110,-130,-130],[-10,-6,-3,-1,-3,-32,-38,-44,-60,-85,-108,-122,-126],[-10,-6,-3,-1,-1,-3,-6,-12,-40,-56,-75,-90,-100],
[-10,-6,-2,-1,-1,-2,-5,-8,-24,-40,-58,-70,-80],[-9,-5,-2,-1,-1,-2,-3,-5,-8,-26,-46,-55,-60],[-8,-5,-2,-1,-1,-2,-3,-3,-4,-14,-30,-40,-45]];

// Colour bar stops (pressure, colour)
const barPressure = [0,-9,-26,-32.5,-38.4,-44.2,-54.6,-63.7,-70.2,-78,-88.4,-93.6,-99.5,-106.6,-115.7,-130];
const barColours = ["#0000b8","#0a14f0","#2030ff","#3068ff","#50f8ff","#80ffd8","#50ffa0","#40b880","#60d840","#a0ff10","#f0ff20","#ffa010","#ff4010","#ff1010","#c80000","#780008"];

const xTicks = [-0.5,-0.25,0,0.25,0.5,0.75,1,1.25,1.5,1.75];
const zTicks = [-0.75,-0.5,-0.25,0,0.25,0.5,0.75];
const uTicks = [-10,-5,0,5,10,15,20];

const RED = "#ff1418", BLUE = "#2a3cff", INK = "#1c1c1c";
const svg = d3.select("#chart");
const minus = s => String(s).replace("-", "\u2212");
const fmtX = d => Math.abs(d * 2 - Math.round(d * 2)) > 1e-6 ? "" : minus(d === 0 ? "0" : d3.format(".1f")(d));
const fmtZ = d => minus(d === 0 ? "0" : d3.format(".2f")(d));

// Frame with inward ticks on all four sides, labels on bottom and left
function frame(box, x, y, xt, yt, fy, bottomWidth) {
  const g = svg.append("g");
  const tick = 16;
  const ax = (gen, tx, ty, vals, fmt, pad) => {
    const a = g.append("g").attr("transform", `translate(${tx},${ty})`)
      .call(gen.tickValues(vals).tickSizeOuter(0).tickSize(-tick).tickPadding(pad).tickFormat(fmt));
    a.selectAll("line").attr("stroke", "#333").attr("stroke-width", 2.2);
    a.select(".domain").attr("stroke", "none");
    a.selectAll("text").attr("font-size", 78).attr("font-family", "Liberation Serif").attr("fill", "#0a0a0a");
    return a;
  };
  ax(d3.axisBottom(x), 0, box.b, xt, fmtX, 30);
  ax(d3.axisTop(x), 0, box.t, xt, () => "", 0);
  const left = ax(d3.axisLeft(y), box.l, 0, yt, fy, 33);
  left.selectAll("text").attr("dy", 20);
  ax(d3.axisRight(y), box.r, 0, yt, () => "", 0);
  g.append("rect").attr("x", box.l).attr("y", box.t).attr("width", box.r - box.l).attr("height", box.b - box.t)
    .attr("fill", "none").attr("stroke", "#333").attr("stroke-width", 2.6);
  g.append("line").attr("x1", box.l).attr("x2", box.r).attr("y1", box.b).attr("y2", box.b)
    .attr("stroke", "#111").attr("stroke-width", bottomWidth);
}

function arrowPath(x0, y0, x1, y1) {
  const dx = x1 - x0, dy = y1 - y0, len = Math.hypot(dx, dy);
  const p = d3.path();
  p.moveTo(x0, y0);
  p.lineTo(x1, y1);
  const head = Math.min(14, len * 0.3), a = Math.atan2(dy, dx), s = 0.36;
  p.moveTo(x1 - head * Math.cos(a - s), y1 - head * Math.sin(a - s));
  p.lineTo(x1, y1);
  p.lineTo(x1 - head * Math.cos(a + s), y1 - head * Math.sin(a + s));
  return p.toString();
}

// Quiver: each table entry covers columnSpans[k] grid columns
function quiver(x, y, us, ws, colour, zShift, width) {
  const speed = d3.scaleLinear().domain([0, 1]).range([0, 2]);
  const arrows = [];
  gridZ.forEach((z, r) => {
    let col = 0;
    columnSpans.forEach((span, k) => {
      for (let n = 0; n < span; n++, col++) {
        arrows.push({ x: gridX[col], z: z + zShift, u: us[r][k], w: ws[r][k] });
      }
    });
  });
  svg.append("g").selectAll("path").data(arrows.filter(d => Number.isFinite(d.u + d.w) && (d.u || d.w))).join("path")
    .attr("fill", "none").attr("stroke", colour).attr("stroke-width", width)
    .attr("d", d => arrowPath(x(d.x), y(d.z), x(d.x) + speed(d.u), y(d.z) - speed(d.w)));
}

function vectorPanel(box, x0, y0, us, marker) {
  const x = d3.scaleLinear().domain([-0.5, 1.5]).range([x0 - 302, x0 + 906]);
  const y = d3.scaleLinear().domain([-0.75, 0.75]).range([y0 + 452.5, y0 - 452.5]);
  quiver(x, y, us[0], us[1], RED, 0, 1.4);
  quiver(x, y, us[2], us[3], BLUE, -0.0125, 1.4);
  svg.append("circle").attr("cx", x(0)).attr("cy", y(0)).attr("r", x(0.5) - x(0))
    .attr("fill", "none").attr("stroke", "#1a1a1a").attr("stroke-width", 4.5);
  svg.append("circle").attr("cx", x(marker[0])).attr("cy", y(marker[1])).attr("r", 17).attr("fill", "#161616");
  frame(box, x, y, xTicks, zTicks, fmtZ, 5.5);
}

function profilePanel(box, x0, y0, red, blue) {
  const x = d3.scaleLinear().domain([-0.5, 1.5]).range([x0 - 302, x0 + 906]);
  const y = d3.scaleLinear().domain([-10, 20]).range([y0 + 327.3, y0 - 654.6]);
  svg.append("line").attr("x1", box.l).attr("x2", box.r).attr("y1", y(0)).attr("y2", y(0)).attr("stroke", "#222").attr("stroke-width", 2.6);
  svg.append("line").attr("x1", x(0)).attr("x2", x(0)).attr("y1", box.t).attr("y2", box.b)
    .attr("stroke", "#222").attr("stroke-width", 2.2).attr("stroke-dasharray", "22,13");
  const line = d3.line().x((d, i) => x(profileX[i])).y(d => y(d));
  [[red, RED], [blue, "#2238ff"]].forEach(([vals, c]) => {
    svg.append("path").attr("d", line(vals)).attr("fill", "none").attr("stroke", c).attr("stroke-width", 7);
    svg.append("g").selectAll("circle").data(vals).join("circle")
      .attr("cx", (d, i) => x(profileX[i])).attr("cy", d => y(d)).attr("r", 11.5).attr("fill", c);
  });
  frame(box, x, y, xTicks, uTicks, d => minus(d), 5);
}

vectorPanel({ l: 435, r: 1985, t: 136.5, b: 1229 }, 790, 661.6, [aRedU, aRedW, aBlueU, aBlueW], [0.574, 0]);
vectorPanel({ l: 2325, r: 3861, t: 136, b: 1230 }, 2681, 662, [bRedU, bRedW, bBlueU, bBlueW], [1.39, -0.871]);
profilePanel({ l: 435, r: 1990, t: 1533.5, b: 2515 }, 791, 2187.7, cRed, cBlue);
profilePanel({ l: 2326, r: 3862, t: 1535, b: 2517 }, 2683.6, 2190, dRed, dBlue);

// Disks painted onto the canvas from the polar tables, through the colour-bar scale
const pressureColour = d3.scaleLinear().domain(barPressure).range(barColours).interpolate(d3.interpolateRgb).clamp(true);
const lut = d3.range(0, 1301).map(i => d3.rgb(pressureColour(-i / 10)));
const ctx = document.getElementById("disks").getContext("2d");

function paintDisk(cx, cy, radii, table, R) {
  const inner = radii[0], outer = radii[radii.length - 1];
  const size = Math.ceil(R * 2) + 4, x0 = Math.floor(cx - R) - 2, y0 = Math.floor(cy - R) - 2;
  const img = ctx.createImageData(size, size);
  const k = outer / R;
  for (let py = 0; py < size; py++) for (let px = 0; px < size; px++) {
    const dx = (px + x0 - cx) * k, dy = (py + y0 - cy) * k, r = Math.hypot(dx, dy);
    const alpha = Math.min(1, outer - r + 0.5, r - inner + 0.5);
    if (alpha <= 0) continue;
    let deg = Math.atan2(-dy, dx) * 180 / Math.PI; if (deg < 0) deg += 360;
    const a = deg / 15, a0 = Math.floor(a) % 24, a1 = (a0 + 1) % 24, fa = a - Math.floor(a);
    const rr = Math.max(inner, Math.min(outer, r));
    let j = d3.bisectRight(radii, rr) - 1; if (j >= radii.length - 1) j = radii.length - 2;
    const fr = (rr - radii[j]) / (radii[j + 1] - radii[j]);
    const p0 = table[a0][j] * (1 - fr) + table[a0][j + 1] * fr;
    const p1 = table[a1][j] * (1 - fr) + table[a1][j + 1] * fr;
    const c = lut[Math.round(-(p0 * (1 - fa) + p1 * fa) * 10)];
    const o = (py * size + px) * 4;
    img.data[o] = c.r; img.data[o + 1] = c.g; img.data[o + 2] = c.b; img.data[o + 3] = 255 * alpha;
  }
  ctx.putImageData(img, x0, y0);
  // Pressure tappings along the eight spokes
  const holes = [];
  spokeAngles.forEach(a => spokeRadii.forEach(r => { if (a % 90 || r > 200) holes.push([a, r]); }));
  svg.append("g").selectAll("circle").data(holes).join("circle")
    .attr("cx", d => cx + d[1] * R / outer * Math.cos(d[0] * Math.PI / 180))
    .attr("cy", d => cy - d[1] * R / outer * Math.sin(d[0] * Math.PI / 180))
    .attr("r", 2.4).attr("fill", "none").attr("stroke", "#112").attr("stroke-width", 1.4).attr("opacity", 0.75);
}
paintDisk(614, 3471, eRadii, e1Pressure, 349);
paintDisk(1386, 3472, eRadii, e2Pressure, 352);
paintDisk(2159, 3475, fRadii, f1Pressure, 349);
paintDisk(2928, 3472, fRadii, f2Pressure, 351);

// Colour bar
const defs = svg.append("defs");
const grad = defs.append("linearGradient").attr("id", "bar").attr("x1", 0).attr("x2", 0).attr("y1", 0).attr("y2", 1);
barPressure.forEach((p, i) => grad.append("stop").attr("offset", -p / 130).attr("stop-color", barColours[i]));
svg.append("rect").attr("x", 3331).attr("y", 3326).attr("width", 42).attr("height", 447)
  .attr("fill", "url(#bar)").attr("stroke", "#1a1a1a").attr("stroke-width", 5);

// Text
function label(x, y, parts, size, opts = {}) {
  const t = svg.append("text").attr("x", x).attr("y", y).attr("font-size", size);
  if (opts.rotate) t.attr("transform", `rotate(${opts.rotate} ${x} ${y})`);
  if (opts.anchor) t.attr("text-anchor", opts.anchor);
  if (opts.spacing) t.attr("letter-spacing", opts.spacing);
  parts.forEach(p => {
    const s = t.append("tspan").text(p.t);
    if (p.i) s.attr("font-style", "italic");
    if (p.dy) s.attr("dy", p.dy);
    if (p.size) s.attr("font-size", p.size);
    if (p.dx) s.attr("dx", p.dx);
  });
}
const tag = (x, y, c, gap = 0) => label(x, y, [{ t: "(" }, { t: c, i: 1, dx: gap }, { t: ")", dx: gap * 1.6 }], 96);
tag(2, 71, "a"); tag(2066, 71, "b"); tag(2, 1439, "c"); tag(2066, 1439, "d"); tag(285, 2904, "e"); tag(2066, 2904, "f", 9);

label(3, 697, [{ t: "z/D", i: 1 }], 104, { spacing: 5 });
label(1214, 2726, [{ t: "x/D", i: 1 }], 104, { anchor: "middle", spacing: 5 });
label(3091, 2726, [{ t: "x/D", i: 1 }], 104, { anchor: "middle", spacing: 5 });
label(198, 1880, [{ t: "\u016b/U", i: 1 }, { t: "o", i: 1, dy: 20, size: 82 }], 118, { rotate: -90, anchor: "middle", spacing: 9 });

label(320, 3067, [{ t: "e", i: 1 }, { t: "-1" }], 83);
label(1100, 3067, [{ t: "e", i: 1 }, { t: "-2" }], 83);
label(1867, 3067, [{ t: "f", i: 1 }, { t: "-1", dx: 8 }], 88);
label(2635, 3067, [{ t: "f", i: 1 }, { t: "-2", dx: 8 }], 88);

label(3253, 3211, [
  { t: "p", i: 1 }, { t: "0", dy: 14, size: 48 }, { t: " \u2212 ", dy: -14 }, { t: "p", i: 1 }, { t: "a", i: 1, dy: 14, size: 48 },
  { t: "/0.5 \u00b7 ", dy: -14 }, { t: "\u03c1", i: 1 }, { t: " \u00b7 " }, { t: "U", i: 1 }, { t: "2", dy: -30, size: 48 }, { t: "0", dx: -24, dy: 46, size: 48 }
], 70);
label(3413, 3352, [{ t: "0" }], 82);
label(3412, 3791, [{ t: "\u2212130" }], 82);
</script>
</body>
</html>
